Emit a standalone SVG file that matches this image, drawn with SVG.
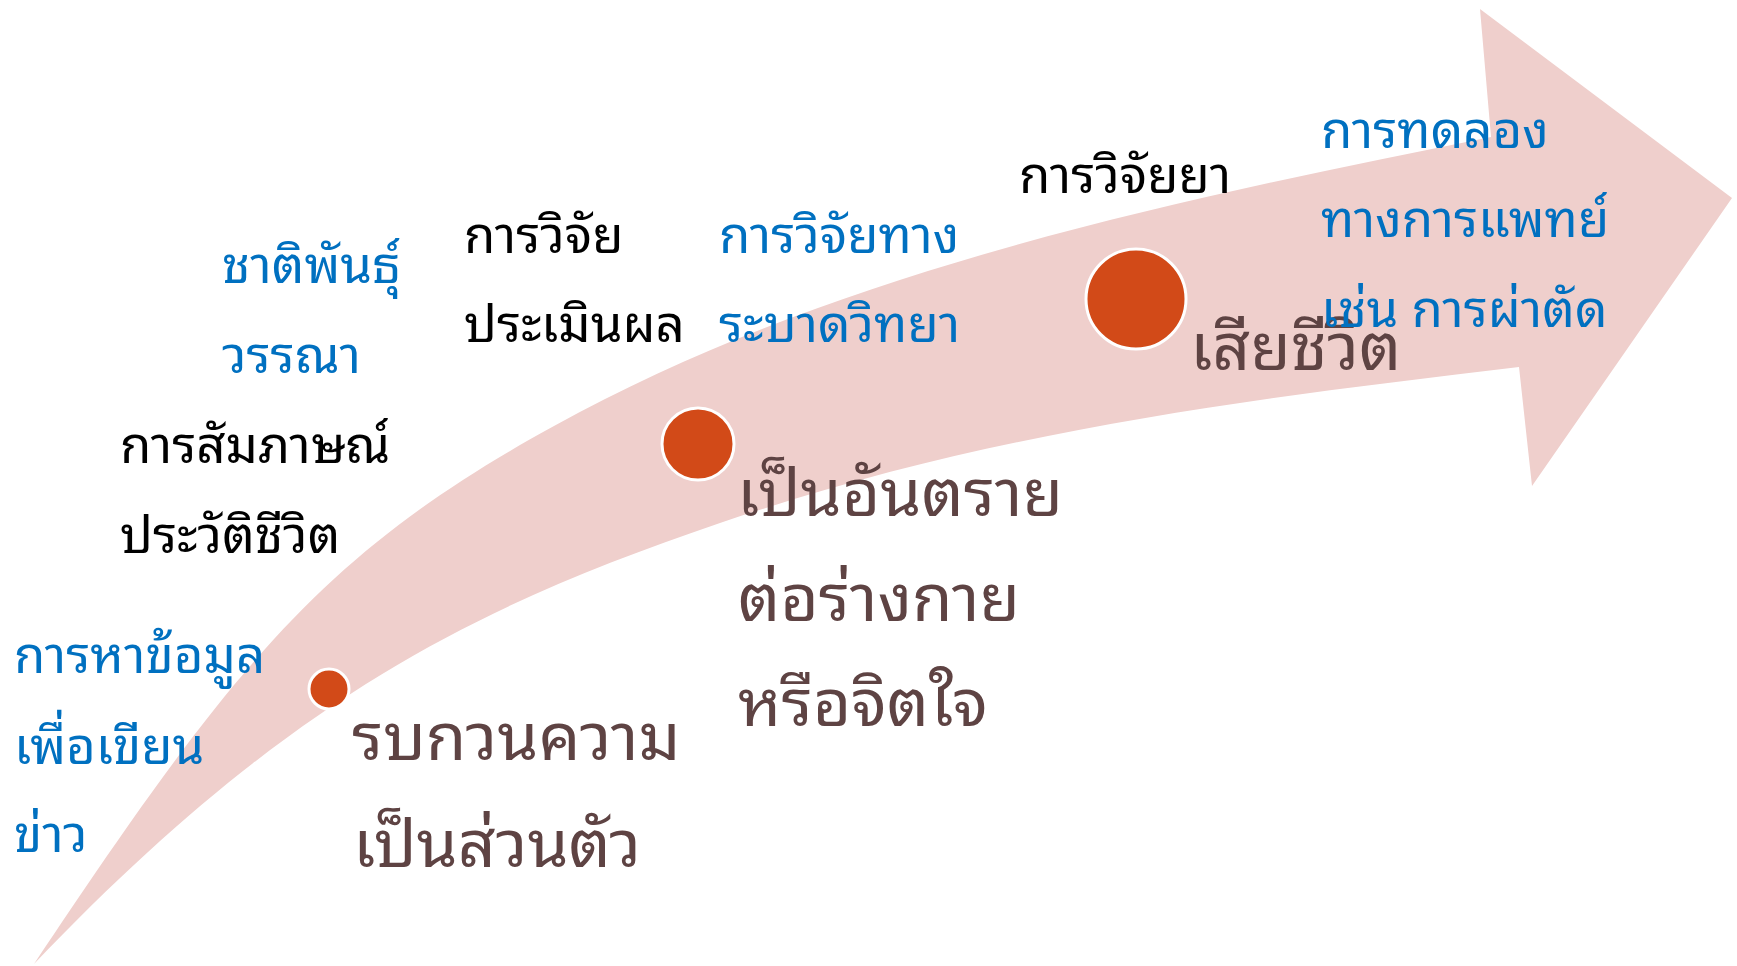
<svg xmlns="http://www.w3.org/2000/svg" width="1737" height="966" viewBox="0 0 1737 966">
<style>
text{font-family:"Noto Sans Thai Looped","Noto Looped Thai","Tlwg Typo","Loma","Garuda","Noto Sans Thai","Noto Sans","DejaVu Sans",sans-serif}
.b{fill:#0070C0;font-size:51px}
.k{fill:#000000;font-size:51px}
.r{fill:#5E4343;font-size:66px}
.dot{fill:#D24A18;stroke:#FFFFFF;stroke-width:3}
</style>
<rect width="1737" height="966" fill="#FFFFFF"/>
<g id="connectors">
<path id="arrow" fill="#EFCFCC" d="M34,964 C234,664 324,552 554,426 C834,272 1161,203 1491,137 L1480,9 L1732,198 L1532,486 L1519,367 C1249,399 990,431 720,523 C470,608 284,702 34,964 Z"/>
</g>
<g id="node-stage1">
<circle class="dot" cx="329" cy="689" r="20"/>
<text class="r" x="352" y="760">รบกวนความ</text>
<text class="r" x="353" y="867">เป็นส่วนตัว</text>
</g>
<g id="node-stage2">
<circle class="dot" cx="698" cy="444" r="36"/>
<text class="r" x="737" y="516">เป็นอันตราย</text>
<text class="r" x="738" y="621">ต่อร่างกาย</text>
<text class="r" x="738" y="726">หรือจิตใจ</text>
</g>
<g id="node-stage3">
<circle class="dot" cx="1136" cy="299" r="50"/>
<text class="r" x="1190" y="370">เสียชีวิต</text>
</g>
<g id="label-news">
<text class="b" x="14" y="673">การหาข้อมูล</text>
<text class="b" x="14" y="764">เพื่อเขียน</text>
<text class="b" x="14" y="852">ข่าว</text>
</g>
<g id="label-interview">
<text class="k" x="120" y="463">การสัมภาษณ์</text>
<text class="k" x="120" y="553">ประวัติชีวิต</text>
</g>
<g id="label-ethno">
<text class="b" x="222" y="283">ชาติพันธุ์</text>
<text class="b" x="222" y="373">วรรณา</text>
</g>
<g id="label-eval">
<text class="k" x="464" y="253">การวิจัย</text>
<text class="k" x="464" y="342">ประเมินผล</text>
</g>
<g id="label-epi">
<text class="b" x="719" y="253">การวิจัยทาง</text>
<text class="b" x="719" y="342">ระบาดวิทยา</text>
</g>
<g id="label-drug">
<text class="k" x="1019" y="193">การวิจัยยา</text>
</g>
<g id="label-medical">
<text class="b" x="1321" y="148">การทดลอง</text>
<text class="b" x="1321" y="237">ทางการแพทย์</text>
<text class="b" x="1321" y="327">เช่น การผ่าตัด</text>
</g>
</svg>
